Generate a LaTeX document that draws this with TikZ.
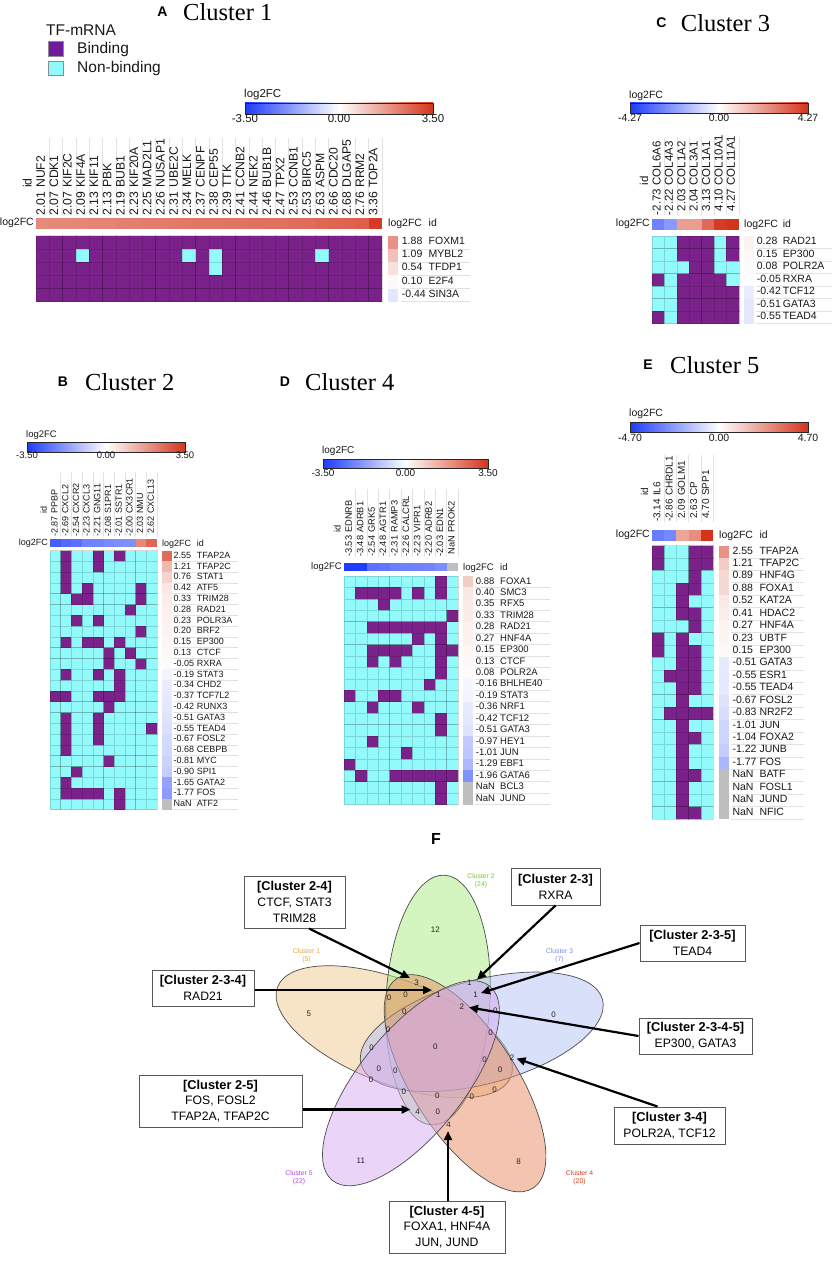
\documentclass[tikz,border=0pt]{standalone}
\usepackage{fontspec}
\setmainfont{Liberation Serif}
\setsansfont{Liberation Sans}
\usetikzlibrary{arrows.meta}
\definecolor{cbBlue}{RGB}{30,60,250}
\definecolor{cbRed}{RGB}{212,52,28}
\definecolor{bindP}{RGB}{122,34,138}
\definecolor{legP}{RGB}{112,26,158}
\definecolor{nonC}{RGB}{146,250,250}
\definecolor{nanG}{RGB}{190,190,190}
\definecolor{sepG}{RGB}{226,226,226}
\definecolor{txt}{RGB}{25,25,25}
\definecolor{vf1}{RGB}{240,200,140}
\definecolor{vf2}{RGB}{170,235,130}
\definecolor{vf3}{RGB}{180,195,245}
\definecolor{vf4}{RGB}{232,140,100}
\definecolor{vf5}{RGB}{215,170,240}
\definecolor{vt1}{RGB}{232,165,60}
\definecolor{vt2}{RGB}{110,205,40}
\definecolor{vt3}{RGB}{125,140,230}
\definecolor{vt4}{RGB}{220,55,20}
\definecolor{vt5}{RGB}{180,70,230}
\newcommand{\fs}[1]{\fontsize{#1}{#1}\selectfont}
\newcommand{\bh}[1]{{\bfseries\fontsize{12.8}{15.8}\selectfont #1}}
\newcommand{\setvc}[2]{%
  \pgfmathtruncatemacro\vcnan{(#1>50)}%
  \ifnum\vcnan=1 \colorlet{vc}{nanG}\else
    \pgfmathsetmacro\vcp{min(100,abs(#1)/#2*100)}%
    \pgfmathtruncatemacro\vcneg{(#1<0)}%
    \ifnum\vcneg=1 \colorlet{vc}{cbBlue!\vcp!white}\else\colorlet{vc}{cbRed!\vcp!white}\fi
  \fi}
\newcommand{\pv}[1]{\pgfmathtruncatemacro\pvnan{(#1>50)}\ifnum\pvnan=1 NaN\else#1\fi}
\newcommand{\cbar}[7]{%
  \shade[left color=cbBlue, right color=cbRed, middle color=white] (#1,#3) rectangle (#2,#4);
  \draw[black!85, line width=0.7pt] (#1,#3) rectangle (#2,#4);
  \node[cblab, anchor=mid west] (\hP cbl) at (#1-1,#5) {log2FC};
  \node[cblab, anchor=mid] (\hP cbn) at (#1,#6) {-#7};
  \node[cblab, anchor=mid] (\hP cbz) at ({(#1+#2)/2},#6) {0.00};
  \node[cblab, anchor=mid] (\hP cbp) at (#2,#6) {#7};}
\newcommand{\basegrid}[1]{%
  \foreach \ci in {1,...,\hNC}{\foreach \rj in {1,...,\hNR}{%
    \fill[#1, cellbd] ({\hX+(\ci-1)*\hW},{\hY+(\rj-1)*\hH}) rectangle ++(\hW,\hH);}}}
\newcommand{\cells}[2]{%
  \foreach \rj/\ca/\cb in {#2}{\foreach \ci in {\ca,...,\cb}{%
    \fill[#1, cellbd] ({\hX+(\ci-1)*\hW},{\hY+(\rj-1)*\hH}) rectangle ++(\hW,\hH);}}}
\newcommand{\colsetup}[1]{%
  \foreach \vv/\nn [count=\ci] in {#1}{%
    \setvc{\vv}{\hM}%
    \fill[vc] ({\hX+(\ci-1)*\hW},\hSY) rectangle ++(\hW,\hSH);
    \node[collab, anchor=mid east] (\hP cv\ci) at ({\hX+(\ci-0.5)*\hW},\hYV) {\pv{\vv}};
    \node[collab, anchor=mid west] (\hP cn\ci) at ({\hX+(\ci-0.5)*\hW},\hYN) {\nn};
    \draw[sepline] ({\hX+\ci*\hW},\hLT) -- ({\hX+\ci*\hW},\hLB);}}
\newcommand{\rowsetup}[1]{%
  \foreach \vv/\nn [count=\rj] in {#1}{%
    \setvc{\vv}{\hM}%
    \fill[vc] (\hSQ,{\hY+(\rj-1)*\hH}) rectangle ++(\hSQW,\hH);
    \node[rowlab, anchor=mid west] (\hP rv\rj) at (\hXV,{\hY+(\rj-0.5)*\hH}) {\pv{\vv}};
    \node[rowlab, anchor=mid west] (\hP rn\rj) at (\hXN,{\hY+(\rj-0.5)*\hH}) {\nn};
    \draw[sepline] ({\hXV-1},{\hY+\rj*\hH}) -- (\hXE,{\hY+\rj*\hH});}}
\newcommand{\headers}{%
  \node[rowlab, anchor=mid east] (\hP hl) at (\hX-2,\hSY+\hSH/2) {log2FC};
  \node[collab, anchor=mid west] (\hP hid) at ({\hX-0.5*\hW},\hYN) {id};
  \node[rowlab, anchor=mid west] (\hP hr) at (\hSQ,\hSY+\hSH/2+1) {log2FC};
  \node[rowlab, anchor=mid west] (\hP hri) at (\hXN,\hSY+\hSH/2+1) {id};}
\tikzset{
  collab/.style={rotate=90, inner sep=0pt, font=\sffamily\fs{\hCF}, text=txt},
  rowlab/.style={inner sep=0pt, font=\sffamily\fs{\hRF}, text=txt},
  cblab/.style={inner sep=0pt, font=\sffamily\fs{\hCBF}, text=txt},
  cellbd/.style={draw=black, draw opacity=0.14, line width=0.5pt},
  sepline/.style={draw=sepG, line width=0.6pt},
  tlet/.style={font=\sffamily\bfseries\fs{14}, inner sep=0pt, text=black},
  ttl/.style={font=\rmfamily\fs{24.5}, inner sep=0pt, anchor=west, text=black},
  legsq/.style={draw=black!45, line width=0.6pt, minimum size=14.6pt, inner sep=0pt},
  legtx/.style={font=\sffamily\fs{15.5}, inner sep=0pt, anchor=west, text=txt},
  vline/.style={draw=black!70, line width=0.7pt, fill opacity=0.5},
  vnum/.style={font=\sffamily\fs{8}, inner sep=0pt, text=black!85},
  vcl/.style={font=\sffamily\fontsize{6.8}{8}\selectfont, inner sep=0pt, align=center},
  vbox/.style={draw=black!65, line width=1pt, fill=white, align=center, inner sep=2pt,
    font=\sffamily\fontsize{12.2}{15.8}\selectfont, text=black},
  varr/.style={line width=2.2pt, -{Triangle[length=9pt,width=8pt]}},
}
\begin{document}
\begin{tikzpicture}[x=1pt,y=-1pt]
\useasboundingbox (0,0) rectangle (834,1276);
\fill[white] (0,0) rectangle (834,1276);
% ---------------- titles
\node[tlet] (tA) at (162.5,12) {A};
\node[ttl] (tA2) at (183,12) {Cluster 1};
\node[tlet] (tC) at (661.5,22.7) {C};
\node[ttl] (tC2) at (680.7,23.3) {Cluster 3};
\node[tlet] (tB) at (63,382) {B};
\node[ttl] (tB2) at (85,382) {Cluster 2};
\node[tlet] (tD) at (285,382) {D};
\node[ttl] (tD2) at (305,382) {Cluster 4};
\node[tlet] (tE) at (648,365) {E};
\node[ttl] (tE2) at (670,365) {Cluster 5};
% ---------------- legend
\node[legtx] (legT) at (46,30) {TF-mRNA};
\node[legsq, fill=legP] (legB) at (55.8,49) {};
\node[legtx] (legBt) at (77,49) {Binding};
\node[legsq, fill=nonC] (legN) at (55.8,68.3) {};
\node[legtx] (legNt) at (77,68.3) {Non-binding};
% ---------------- panel A
\def\hP{A}\def\hX{36}\def\hW{13.3}\def\hSY{218}\def\hSH{11}\def\hY{235.7}\def\hH{13.2}\def\hM{3.5}
\def\hNC{26}\def\hNR{5}\def\hCF{12.2}\def\hYV{191.3}\def\hYN{188}\def\hLT{138}\def\hLB{215}
\def\hRF{10.5}\def\hSQ{388}\def\hSQW{10}\def\hXV{401.7}\def\hXN{428.5}\def\hXE{470}\def\hCBF{11.5}
\cbar{245}{433}{103}{114}{95}{120.7}{3.50}
\basegrid{bindP}
\cells{nonC}{2/4/4, 2/12/12, 2/14/14, 3/14/14, 2/22/22}
\colsetup{2.01/NUF2,2.07/CDK1,2.07/KIF2C,2.09/KIF4A,2.13/KIF11,2.13/PBK,2.19/BUB1,2.23/KIF20A,2.25/MAD2L1,2.26/NUSAP1,2.31/UBE2C,2.34/MELK,2.37/CENPF,2.38/CEP55,2.39/TTK,2.41/CCNB2,2.44/NEK2,2.46/BUB1B,2.47/TPX2,2.53/CCNB1,2.53/BIRC5,2.63/ASPM,2.66/CDC20,2.68/DLGAP5,2.76/RRM2,3.36/TOP2A}
\rowsetup{1.88/FOXM1,1.09/MYBL2,0.54/TFDP1,0.10/E2F4,-0.44/SIN3A}
\headers
% ---------------- panel C
\def\hP{C}\def\hX{652}\def\hW{12.4}\def\hSY{219}\def\hSH{11}\def\hY{236}\def\hH{12.5}\def\hM{4.27}
\def\hNC{7}\def\hNR{7}\def\hCF{11.5}\def\hYV{188.8}\def\hYN{185.6}\def\hLT{137}\def\hLB{215}
\def\hRF{10.5}\def\hSQ{744}\def\hSQW{10}\def\hXV{756.7}\def\hXN{782.7}\def\hXE{832}\def\hCBF{10.5}
\cbar{630}{808}{103}{113}{96}{119}{4.27}
\basegrid{nonC}
\cells{bindP}{1/3/5, 1/7/7, 2/3/5, 2/7/7, 3/4/5, 4/1/1, 4/3/6, 5/3/7, 6/3/7, 7/1/1, 7/3/7}
\colsetup{-2.73/COL6A6,-2.22/COL4A3,2.03/COL1A2,2.04/COL3A1,3.13/COL1A1,4.10/COL10A1,4.27/COL11A1}
\rowsetup{0.28/RAD21,0.15/EP300,0.08/POLR2A,-0.05/RXRA,-0.42/TCF12,-0.51/GATA3,-0.55/TEAD4}
\headers
% ---------------- panel B
\def\hP{B}\def\hX{50}\def\hW{10.7}\def\hSY{539}\def\hSH{8}\def\hY{550.5}\def\hH{10.8}\def\hM{3.5}
\def\hNC{10}\def\hNR{24}\def\hCF{9}\def\hYV{516.2}\def\hYN{513.7}\def\hLT{471.7}\def\hLB{537}
\def\hRF{9}\def\hSQ{162}\def\hSQW{9.5}\def\hXV{173.5}\def\hXN{196.7}\def\hXE{238}\def\hCBF{9.5}
\cbar{27}{185}{442}{452}{435}{456.7}{3.50}
\basegrid{nonC}
\cells{bindP}{1/2/2,1/5/5,1/7/7,2/2/2,2/5/5,3/2/2,4/2/2,4/4/4,4/9/9,5/3/4,5/9/9,6/8/8,7/3/3,7/5/5,8/9/9,9/2/2,9/4/5,9/7/7,10/6/6,10/8/8,11/6/6,11/9/9,12/2/2,12/5/5,12/7/7,13/7/7,14/1/2,14/5/7,15/6/6,16/2/2,16/5/5,17/2/2,17/5/5,17/10/10,18/2/2,18/5/5,19/2/2,20/6/6,21/3/3,22/2/2,23/2/5,23/7/7,24/7/7}
\colsetup{-2.87/PPBP,-2.69/CXCL2,-2.54/CXCR2,-2.23/CXCL3,-2.21/GNG11,-2.08/S1PR1,-2.01/SSTR1,-2.00/CX3CR1,2.03/NMU,2.62/CXCL13}
\rowsetup{2.55/TFAP2A,1.21/TFAP2C,0.76/STAT1,0.42/ATF5,0.33/TRIM28,0.28/RAD21,0.23/POLR3A,0.20/BRF2,0.15/EP300,0.13/CTCF,-0.05/RXRA,-0.19/STAT3,-0.34/CHD2,-0.37/TCF7L2,-0.42/RUNX3,-0.51/GATA3,-0.55/TEAD4,-0.67/FOSL2,-0.68/CEBPB,-0.81/MYC,-0.90/SPI1,-1.65/GATA2,-1.77/FOS,99/ATF2}
\headers
% ---------------- panel D
\def\hP{D}\def\hX{344}\def\hW{11.4}\def\hSY{562.7}\def\hSH{8}\def\hY{576}\def\hH{11.43}\def\hM{3.5}
\def\hNC{10}\def\hNR{20}\def\hCF{9.3}\def\hYV{535.5}\def\hYN{532.9}\def\hLT{489}\def\hLB{557}
\def\hRF{9.5}\def\hSQ{463}\def\hSQW{10}\def\hXV{475.7}\def\hXN{500}\def\hXE{550}\def\hCBF{10}
\cbar{323}{488}{459.3}{468.3}{451.7}{474}{3.50}
\basegrid{nonC}
\cells{bindP}{1/9/9,2/2/5,2/7/7,2/9/9,3/4/4,4/10/10,5/3/9,6/7/7,6/9/9,7/3/6,7/9/10,8/3/3,8/5/5,8/9/9,9/9/9,10/8/8,11/1/1,11/4/5,12/3/3,12/7/7,13/9/9,14/9/9,15/3/3,16/6/6,17/1/1,18/2/2,18/5/10,19/9/9,20/9/9}
\colsetup{-3.53/EDNRB,-3.48/ADRB1,-2.54/GRK5,-2.48/AGTR1,-2.31/RAMP3,-2.26/CALCRL,-2.23/VIPR1,-2.20/ADRB2,-2.03/EDN1,99/PROK2}
\rowsetup{0.88/FOXA1,0.40/SMC3,0.35/RFX5,0.33/TRIM28,0.28/RAD21,0.27/HNF4A,0.15/EP300,0.13/CTCF,0.08/POLR2A,-0.16/BHLHE40,-0.19/STAT3,-0.36/NRF1,-0.42/TCF12,-0.51/GATA3,-0.97/HEY1,-1.01/JUN,-1.29/EBF1,-1.96/GATA6,99/BCL3,99/JUND}
\headers
% ---------------- panel E
\def\hP{E}\def\hX{652}\def\hW{12.2}\def\hSY{530}\def\hSH{10.7}\def\hY{545.5}\def\hH{12.43}\def\hM{4.70}
\def\hNC{5}\def\hNR{22}\def\hCF{10}\def\hYV{498.9}\def\hYN{496.1}\def\hLT{455}\def\hLB{522}
\def\hRF{10.5}\def\hSQ{719}\def\hSQW{10}\def\hXV{732.3}\def\hXN{759.3}\def\hXE{804}\def\hCBF{10.5}
\cbar{630}{808}{422.7}{432.7}{414}{439.3}{4.70}
\basegrid{nonC}
\cells{bindP}{1/1/1,1/4/5,2/1/1,2/4/5,3/4/4,4/3/4,5/3/3,6/3/4,7/4/4,8/1/1,8/3/3,9/1/1,9/3/4,10/3/4,11/2/4,12/3/4,13/3/3,14/2/5,15/3/3,16/3/4,17/3/3,18/3/3,19/3/4,20/3/3,21/3/3,22/3/4}
\colsetup{-3.14/IL6,-2.86/CHRDL1,2.09/GOLM1,2.63/CP,4.70/SPP1}
\rowsetup{2.55/TFAP2A,1.21/TFAP2C,0.89/HNF4G,0.88/FOXA1,0.52/KAT2A,0.41/HDAC2,0.27/HNF4A,0.23/UBTF,0.15/EP300,-0.51/GATA3,-0.55/ESR1,-0.55/TEAD4,-0.67/FOSL2,-0.83/NR2F2,-1.01/JUN,-1.04/FOXA2,-1.22/JUNB,-1.77/FOS,99/BATF,99/FOSL1,99/JUND,99/NFIC}
\headers
% ---------------- panel F : Venn
\node[font=\sffamily\bfseries\fs{16}, inner sep=0pt] (tF) at (436,839) {F};
\begin{scope}[shift={(438,1046)}]
\foreach \ang/\col in {162/vf1, 90/vf2, 18/vf3, -54/vf4, -126/vf5}{
  \draw[vline, fill=\col, shift={(\ang:46pt)}, rotate=\ang-3] (0,0) ellipse (125pt and 52pt);
}
\end{scope}
\foreach \x/\y/\t [count=\k] in {435.4/929.7/12, 416.5/982.4/3, 469.4/982.4/1, 389.1/998.2/0,
  405.7/994.8/0, 438.3/994.4/1, 475.6/994.8/1, 308.8/1013.3/5, 404.3/1011.9/0, 461.9/1006.4/2,
  495.4/1010.9/0, 553.5/1015/0, 388.2/1029.7/0, 490.7/1033.1/0, 371.7/1047.5/0, 435.4/1046.8/0,
  484.6/1059.8/0, 512/1057.8/2, 378.8/1069.1/0, 395.3/1070.8/0, 500.2/1069.8/0, 371.2/1079.4/0,
  403.8/1091.3/0, 437.3/1095.5/0, 471.8/1096.5/0, 494.5/1089.6/0, 417.5/1111.9/4, 437.8/1111.9/0,
  448.7/1124.9/4, 360.8/1160.9/11, 518.6/1161.5/8}{
  \node[vnum] (vn\k) at (\x,\y) {\t};
}
\node[vcl, text=vt1] (cl1) at (306.5,956) {Cluster 1\\(5)};
\node[vcl, text=vt2] (cl2) at (481,880.5) {Cluster 2\\(24)};
\node[vcl, text=vt3] (cl3) at (559.5,956) {Cluster 3\\(7)};
\node[vcl, text=vt4] (cl4) at (579.5,1178) {Cluster 4\\(20)};
\node[vcl, text=vt5] (cl5) at (299,1178) {Cluster 5\\(22)};
% boxes
\node[vbox, minimum width=101pt, minimum height=52pt] (b24) at (294.5,902) {\bh{[Cluster 2-4]}\\CTCF, STAT3\\TRIM28};
\node[vbox, minimum width=89pt, minimum height=37pt] (b23) at (555.5,886.5) {\bh{[Cluster 2-3]}\\RXRA};
\node[vbox, minimum width=105pt, minimum height=36pt] (b235) at (692.5,943) {\bh{[Cluster 2-3-5]}\\TEAD4};
\node[vbox, minimum width=102pt, minimum height=36pt] (b234) at (203,988) {\bh{[Cluster 2-3-4]}\\RAD21};
\node[vbox, minimum width=113pt, minimum height=36pt] (b2345) at (695.5,1036) {\bh{[Cluster 2-3-4-5]}\\EP300, GATA3};
\node[vbox, minimum width=163pt, minimum height=52pt] (b25) at (220.5,1101) {\bh{[Cluster 2-5]}\\FOS, FOSL2\\TFAP2A, TFAP2C};
\node[vbox, minimum width=111pt, minimum height=37pt] (b34) at (669.5,1125.5) {\bh{[Cluster 3-4]}\\POLR2A, TCF12};
\node[vbox, minimum width=116pt, minimum height=52pt] (b45) at (447,1227) {\bh{[Cluster 4-5]}\\FOXA1, HNF4A\\JUN, JUND};
% arrows
\coordinate (t24) at (410,978);
\coordinate (t23) at (477,979.5);
\coordinate (t235) at (481,993);
\coordinate (t234) at (432,990);
\coordinate (t2345) at (469,1007.4);
\coordinate (t25) at (410.5,1109.5);
\coordinate (t34) at (516.5,1058.5);
\coordinate (t45) at (448,1131);
\draw[varr] ([xshift=14.5pt]b24.south) -- (t24);
\draw[varr] (b23.south) -- (t23);
\draw[varr] (b235.west) -- (t235);
\draw[varr] (b234.east |- t234) -- (t234);
\draw[varr] (b2345.west) -- (t2345);
\draw[varr] (b25.east |- t25) -- (t25);
\draw[varr] ([xshift=-12pt]b34.north) -- (t34);
\draw[varr] (t45 |- b45.north) -- (t45);
\end{tikzpicture}
\end{document}
